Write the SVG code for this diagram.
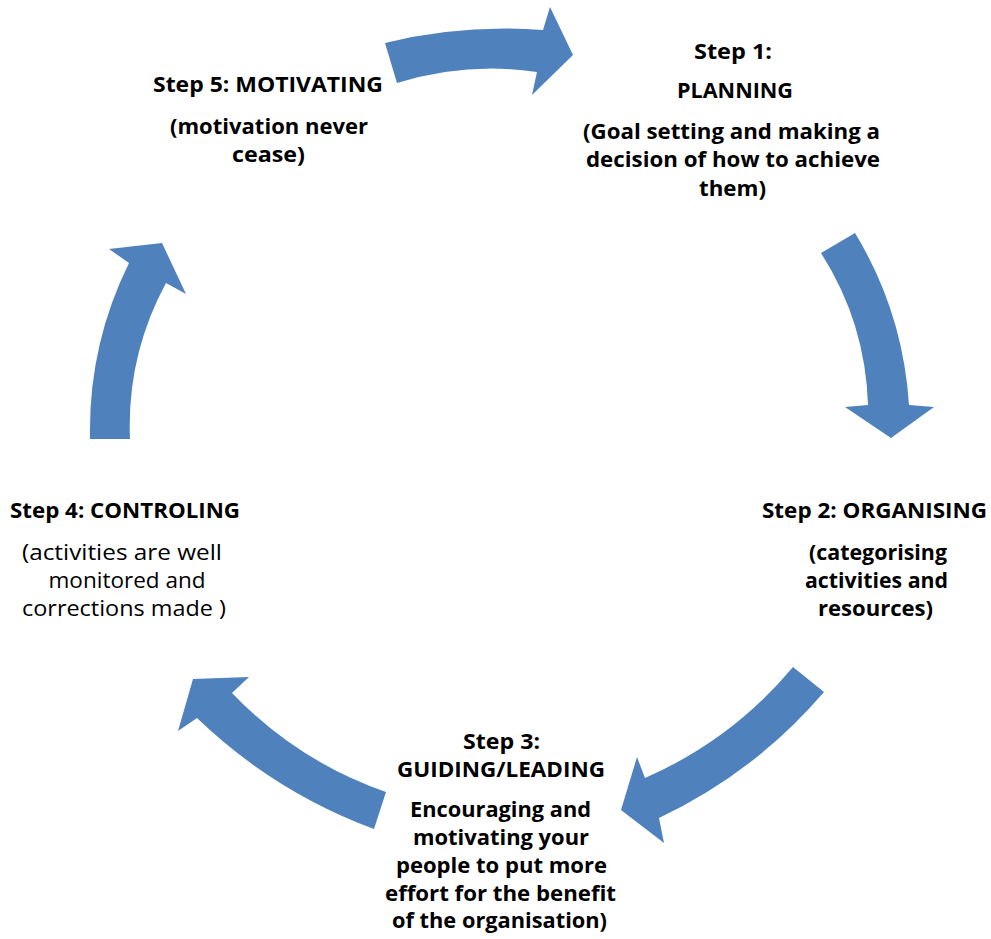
<svg xmlns="http://www.w3.org/2000/svg" width="991" height="939" viewBox="0 0 991 939">
<style>
.arrow{fill:#4F81BD;stroke:none}
text{font-family:"Open Sans","Liberation Sans",sans-serif;font-size:22px;fill:#000;text-anchor:middle}
.b{font-weight:bold}
.r{font-weight:normal}
</style>
<rect width="991" height="939" fill="#fff"/>
<g id="connectors">
<path id="arrow1" class="arrow" d="M385,43 Q462,24 543,30 L550,7 L573,55 L532,95 L537,72 Q467,61.5 397,83 Z"/>
<path id="arrow2" class="arrow" d="M855,233 Q903,312 909,405 L934,407 L891,438 L845,407 L868,405 Q865.5,322.5 821,253 Z"/>
<path id="arrow3" class="arrow" d="M793,667 L824,692 Q755,772.5 659,818 L664,843 L621,810 L637,757 L645,778 Q732,740 793,667 Z"/>
<path id="arrow4" class="arrow" d="M386,792 Q297,761 232,693 L249,677 L193,679 L178,731 L197,718 Q274,792 374,829 Z"/>
<path id="arrow5" class="arrow" d="M90,439 Q88,346 129,263 L109,249 L162,243 L186,294 L166,283 Q126.5,356 130,439 Z"/>
</g>
<g id="step1" class="b">
<text x="733" y="58.5" textLength="78" lengthAdjust="spacingAndGlyphs">Step 1:</text>
<text x="735" y="98" textLength="116" lengthAdjust="spacingAndGlyphs">PLANNING</text>
<text x="731.5" y="138.5" textLength="297" lengthAdjust="spacingAndGlyphs">(Goal setting and making a</text>
<text x="733" y="167" textLength="294" lengthAdjust="spacingAndGlyphs">decision of how to achieve</text>
<text x="732.5" y="195.5" textLength="67" lengthAdjust="spacingAndGlyphs">them)</text>
</g>
<g id="step2" class="b">
<text x="874.5" y="518" textLength="225" lengthAdjust="spacingAndGlyphs">Step 2: ORGANISING</text>
<text x="878" y="560" textLength="138" lengthAdjust="spacingAndGlyphs">(categorising</text>
<text x="876.5" y="588" textLength="143" lengthAdjust="spacingAndGlyphs">activities and</text>
<text x="875.5" y="616" textLength="115" lengthAdjust="spacingAndGlyphs">resources)</text>
</g>
<g id="step3" class="b">
<text x="501.5" y="749" textLength="77" lengthAdjust="spacingAndGlyphs">Step 3:</text>
<text x="501" y="777" textLength="208" lengthAdjust="spacingAndGlyphs">GUIDING/LEADING</text>
<text x="500.5" y="817" textLength="181" lengthAdjust="spacingAndGlyphs">Encouraging and</text>
<text x="501" y="845" textLength="176" lengthAdjust="spacingAndGlyphs">motivating your</text>
<text x="501.5" y="873" textLength="211" lengthAdjust="spacingAndGlyphs">people to put more</text>
<text x="500.5" y="900.5" textLength="231" lengthAdjust="spacingAndGlyphs">effort for the benefit</text>
<text x="499.5" y="928" textLength="215" lengthAdjust="spacingAndGlyphs">of the organisation)</text>
</g>
<g id="step4">
<text class="b" x="125" y="518" textLength="230" lengthAdjust="spacingAndGlyphs">Step 4: CONTROLING</text>
<text class="r" x="122" y="560" textLength="200" lengthAdjust="spacingAndGlyphs">(activities are well</text>
<text class="r" x="127" y="588" textLength="157" lengthAdjust="spacingAndGlyphs">monitored and</text>
<text class="r" x="124" y="616" textLength="204" lengthAdjust="spacingAndGlyphs">corrections made )</text>
</g>
<g id="step5" class="b">
<text x="268" y="92" textLength="230" lengthAdjust="spacingAndGlyphs">Step 5: MOTIVATING</text>
<text x="269" y="134" textLength="198" lengthAdjust="spacingAndGlyphs">(motivation never</text>
<text x="268.5" y="162" textLength="73" lengthAdjust="spacingAndGlyphs">cease)</text>
</g>
</svg>
